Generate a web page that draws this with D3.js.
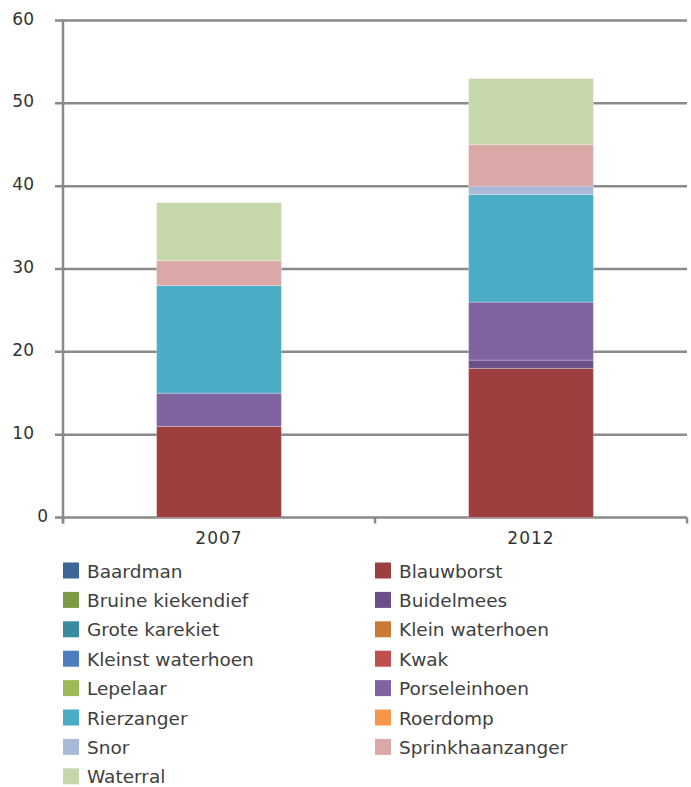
<!DOCTYPE html>
<html>
<head>
<meta charset="utf-8">
<script src="https://cdn.jsdelivr.net/npm/d3@7"></script>
<style>
  html, body { margin: 0; padding: 0; background: #fff; }
  svg text { font-family: "DejaVu Sans", "Open Sans", sans-serif; }
</style>
</head>
<body>
<svg id="chart" width="691" height="787"></svg>
<script>
// Years on the x axis
const years = ["2007", "2012"];

// Species, in legend order
const species = [
  "Baardman", "Blauwborst", "Bruine kiekendief", "Buidelmees",
  "Grote karekiet", "Klein waterhoen", "Kleinst waterhoen", "Kwak",
  "Lepelaar", "Porseleinhoen", "Rierzanger", "Roerdomp",
  "Snor", "Sprinkhaanzanger", "Waterral"
];

// Territory counts per species, one array per year (same order as species)
const counts2007 = [0, 11, 0, 0, 0, 0, 0, 0, 0, 4, 13, 0, 0, 3, 7];
const counts2012 = [0, 18, 0, 1, 0, 0, 0, 0, 0, 7, 13, 0, 1, 5, 8];

// Species colours
const colors = [
  "#3F6699", "#9C3F3E", "#7A9A43", "#6A5088",
  "#398BA0", "#CB7A36", "#4E7EBE", "#C14F4D",
  "#9BBB59", "#8064A2", "#4BACC6", "#F79646",
  "#A9B9D8", "#D9A8A7", "#C6D7AB"
];

// Y axis tick values
const yTicks = [0, 10, 20, 30, 40, 50, 60];

const svg = d3.select("#chart");
const plotLeft = 63, plotRight = 687, plotTop = 20.5, plotBottom = 517.5;

const rows = years.map((yr, i) => {
  const r = { year: yr };
  const vals = i === 0 ? counts2007 : counts2012;
  species.forEach((s, j) => r[s] = vals[j]);
  return r;
});

const x = d3.scaleBand().domain(years).range([plotLeft, plotRight])
  .paddingInner(0.6).paddingOuter(0.3);
const y = d3.scaleLinear().domain([0, 60]).range([plotBottom, plotTop]);
const color = d3.scaleOrdinal().domain(species).range(colors);

// Horizontal gridlines with left tick marks
svg.append("g").selectAll("line").data(yTicks).join("line")
  .attr("x1", plotLeft - 8).attr("x2", plotRight)
  .attr("y1", d => y(d)).attr("y2", d => y(d))
  .attr("stroke", "#8a8a8a").attr("stroke-width", 2.5);

// Y tick labels (the zero label sits closer to the axis)
svg.append("g").selectAll("text").data(yTicks).join("text")
  .attr("x", d => d === 0 ? 48 : 34)
  .attr("y", d => y(d) - 2)
  .attr("dy", "0.36em")
  .attr("text-anchor", "end")
  .attr("font-size", 17).attr("fill", "#333")
  .text(d => d);

// Stacked bars
const stack = d3.stack().keys(species)(rows);
svg.append("g").selectAll("g").data(stack).join("g")
  .attr("fill", d => color(d.key))
  .selectAll("rect").data(d => d).join("rect")
  .attr("x", d => x(d.data.year))
  .attr("width", x.bandwidth())
  .attr("y", d => y(d[1]))
  .attr("height", d => y(d[0]) - y(d[1]))
  .attr("stroke", "rgba(255,255,255,0.25)")
  .attr("stroke-width", 1);

// Vertical axis line
svg.append("line")
  .attr("x1", plotLeft).attr("x2", plotLeft)
  .attr("y1", plotTop - 1).attr("y2", plotBottom + 6)
  .attr("stroke", "#8a8a8a").attr("stroke-width", 2.5);

// X axis ticks at band boundaries
const xTickPos = [plotLeft, (plotLeft + plotRight) / 2, plotRight];
svg.append("g").selectAll("line").data(xTickPos).join("line")
  .attr("x1", d => d).attr("x2", d => d)
  .attr("y1", plotBottom).attr("y2", plotBottom + 6)
  .attr("stroke", "#8a8a8a").attr("stroke-width", 2.5);

// X labels
svg.append("g").selectAll("text").data(years).join("text")
  .attr("x", d => x(d) + x.bandwidth() / 2)
  .attr("y", 538)
  .attr("dy", "0.36em")
  .attr("text-anchor", "middle")
  .attr("font-size", 17).attr("letter-spacing", 1).attr("fill", "#333")
  .text(d => d);

// Legend: two columns, filled row by row
const legend = svg.append("g").selectAll("g").data(species).join("g")
  .attr("transform", (d, i) => {
    const col = i % 2, row = Math.floor(i / 2);
    return `translate(${col === 0 ? 63 : 375},${570.5 + row * 29.4})`;
  });
legend.append("rect")
  .attr("x", 0).attr("y", -8).attr("width", 16).attr("height", 16)
  .attr("fill", d => color(d));
legend.append("text")
  .attr("x", 24).attr("y", 0.5)
  .attr("dy", "0.36em")
  .attr("font-size", 18.5).attr("fill", "#404040")
  .text(d => d);
</script>
</body>
</html>
